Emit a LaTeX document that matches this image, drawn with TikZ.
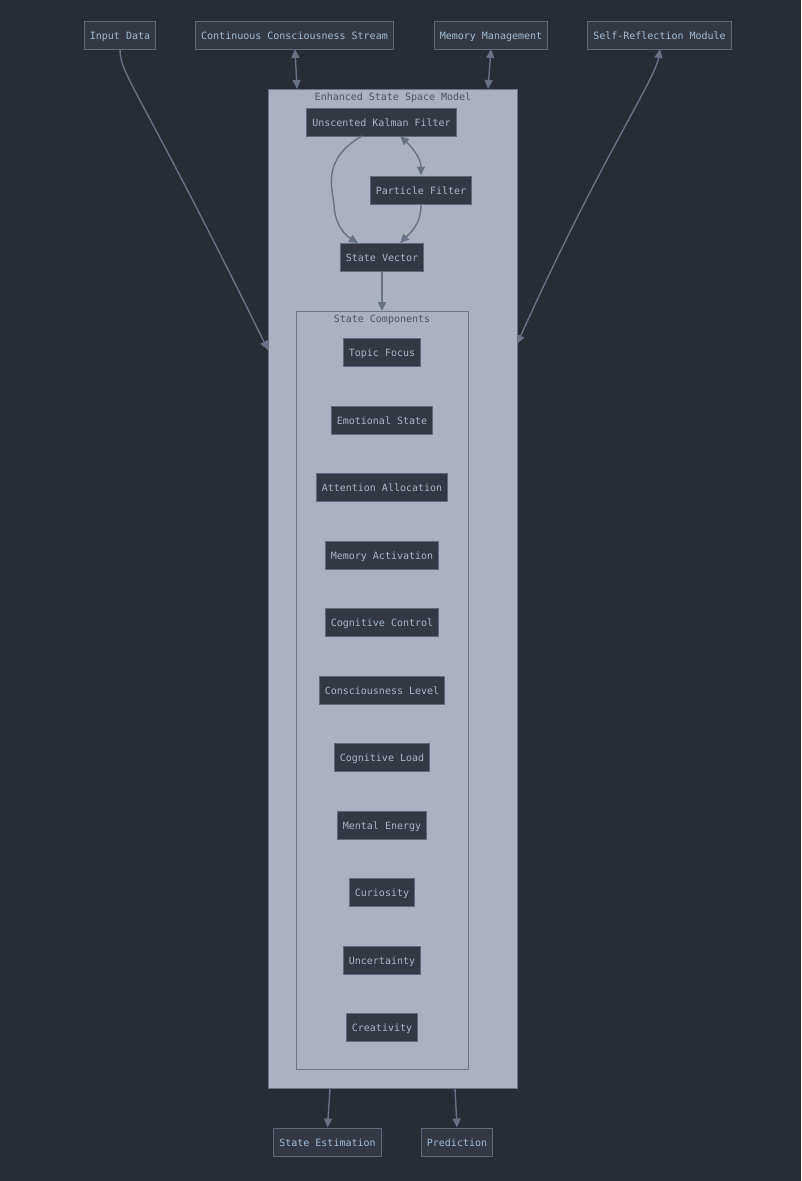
\documentclass[tikz,border=0pt]{standalone}
\usepackage{fontspec}
\setmonofont{DejaVu Sans Mono}
\usetikzlibrary{arrows.meta}
\definecolor{bgc}{HTML}{282C34}
\definecolor{nodefill}{HTML}{343842}
\definecolor{nodeline}{HTML}{616879}
\definecolor{nodetext}{HTML}{A9B6C8}
\definecolor{toptext}{HTML}{A3BCD6}
\definecolor{clfill}{HTML}{ABB1BE}
\definecolor{clline}{HTML}{6B7385}
\definecolor{cltext}{HTML}{4B5263}
\definecolor{edgec}{HTML}{697184}
\tikzset{
  box/.style={draw=nodeline, fill=nodefill, text=nodetext, line width=1pt,
    font=\ttfamily\fontsize{10}{12}\selectfont, inner xsep=5.5pt, inner ysep=0pt,
    minimum height=28pt, text height=8.5pt, text depth=0.5pt},
  topbox/.style={box, text=toptext},
  cluster/.style={draw=clline, fill=clfill, line width=1pt},
  cltitle/.style={text=cltext, font=\ttfamily\fontsize{10}{12}\selectfont, inner sep=0pt},
  edge/.style={draw=edgec, line width=1.4pt, -{Triangle[length=9pt,width=8pt]}},
  biedge/.style={draw=edgec, line width=1.4pt, {Triangle[length=9pt,width=8pt]}-{Triangle[length=9pt,width=8pt]}}
}
\begin{document}
\begin{tikzpicture}[x=1pt,y=-1pt]
\fill[bgc] (0,0) rectangle (801,1181);
\useasboundingbox (0,0) rectangle (801,1181);
% clusters
\draw[cluster] (268,89) rectangle (517,1088);
\node[cltitle] (outert) at (393,98) {Enhanced State Space Model};
\draw[cluster] (296,311) rectangle (468,1069);
\node[cltitle] (innert) at (382,320) {State Components};
\coordinate (outerL) at (268,350);
\coordinate (outerR) at (517,344);
\coordinate (outerT1) at (297,89);
\coordinate (outerT2) at (488,89);
\coordinate (outerB1) at (330,1088);
\coordinate (outerB2) at (455,1088);
\coordinate (innerT) at (382,311);
% top nodes
\node[topbox] (inp) at (120,35) {Input Data};
\node[topbox] (ccs) at (294.5,35) {Continuous Consciousness Stream};
\node[topbox] (mem) at (491,35) {Memory Management};
\node[topbox] (srm) at (659.5,35) {Self-Reflection Module};
% filters
\node[box] (ukf) at (381.5,122) {Unscented Kalman Filter};
\node[box] (pf) at (421,190) {Particle Filter};
\node[box] (sv) at (382,257) {State Vector};
% components
\node[box] (c1) at (382,352) {Topic Focus};
\node[box] (c2) at (382,420) {Emotional State};
\node[box] (c3) at (382,487) {Attention Allocation};
\node[box] (c4) at (382,555) {Memory Activation};
\node[box] (c5) at (382,622) {Cognitive Control};
\node[box] (c6) at (382,690) {Consciousness Level};
\node[box] (c7) at (382,757) {Cognitive Load};
\node[box] (c8) at (382,825) {Mental Energy};
\node[box] (c9) at (382,892) {Curiosity};
\node[box] (c10) at (382,960) {Uncertainty};
\node[box] (c11) at (382,1027) {Creativity};
% bottom
\node[topbox] (se) at (327.5,1142) {State Estimation};
\node[topbox] (pr) at (457,1142) {Prediction};
% edges
\draw[edge] (inp.south) .. controls (120,75) and (140,90) .. (outerL);
\draw[biedge] (outerR) .. controls (600,160) and (655,80) .. (660,49);
\draw[biedge] (295,49) -- (outerT1);
\draw[biedge] (491,49) -- (outerT2);
\draw[edge] (362,136) .. controls (320,160) and (333,190) .. (334,205) .. controls (335,225) and (345,235) .. (358,243);
\draw[biedge] (400,136) .. controls (415,150) and (421,160) .. (pf.north);
\draw[edge] (pf.south) .. controls (421,225) and (410,233) .. (400,243);
\draw[edge] (sv.south) -- (innerT);
\draw[edge] (outerB1) -- (se.north);
\draw[edge] (outerB2) -- (pr.north);
\end{tikzpicture}
\end{document}
